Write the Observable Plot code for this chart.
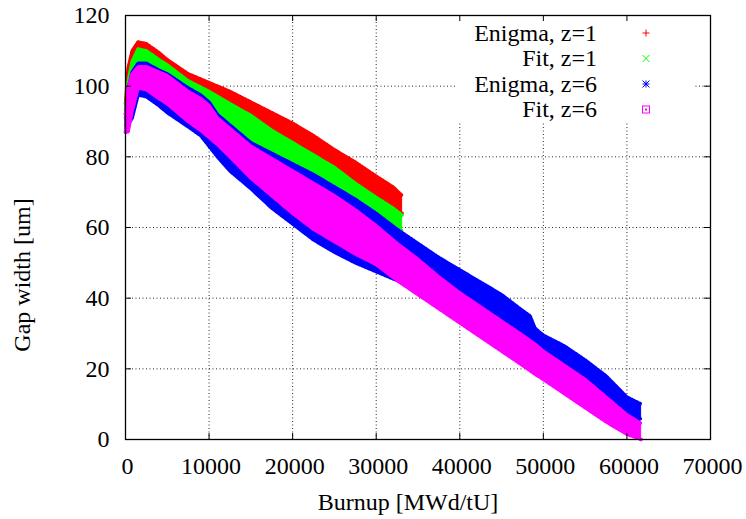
<!DOCTYPE html>
<html>
<head>
<meta charset="utf-8">
<script src="https://cdn.jsdelivr.net/npm/d3@7"></script>
<script src="https://cdn.jsdelivr.net/npm/@observablehq/plot@0.6"></script>
<style>
  html, body { margin: 0; padding: 0; background: white; }
</style>
</head>
<body>
<div id="chart"></div>
<script>
// ---------- data (band envelopes) ----------
const burnupZ1 = [0, 300, 800, 1500, 2500, 4000, 5000, 7500, 10000, 12500, 15000, 17500, 20000, 22500, 25000, 27500, 30000, 32000, 33100];
const enigmaZ1High = [95, 105, 110, 112.5, 112, 109.5, 107.5, 103.5, 101, 98.5, 95.5, 92.5, 89.5, 86, 82, 78.5, 74.5, 71.5, 69];
const enigmaZ1Low  = [91, 97, 101, 103, 103, 101, 99.5, 95.5, 92, 89, 86, 82.5, 79, 75.5, 72, 69, 66, 63.5, 64];
const fitZ1High = [93, 101, 107, 110.5, 110, 107.5, 106, 101.5, 98.5, 95, 91.7, 87.5, 84, 80.5, 77, 72.5, 68.5, 65.5, 63.5];
const fitZ1Low  = [89, 95, 100, 103, 102.5, 101, 100, 96.5, 93.5, 89.5, 85, 81, 77, 73.5, 70, 66.5, 63, 60.5, 59];

const burnupZ6 = [0, 300, 800, 1500, 2500, 4000, 5000, 7500, 9000, 10000, 11000, 12500, 15000, 17500, 20000, 22500, 25000, 27500, 30000, 32500, 35000, 37500, 40000, 42500, 45000, 47500, 48400, 49000, 50000, 52500, 55000, 57500, 60000, 61700];
const enigmaZ6High = [92, 99, 104, 106.5, 106.5, 104.5, 103.5, 99.5, 97.5, 95.5, 92, 89, 84, 81, 78, 75, 71.5, 68, 64, 59.5, 55.5, 51.5, 48, 44.5, 41, 36.5, 35, 31.5, 29.5, 26.5, 22.5, 18, 12, 10];
const enigmaZ6Low  = [87, 89, 91, 97.5, 97, 94.5, 92.5, 88.5, 86, 83, 80, 76, 71, 65.5, 61, 56.5, 53, 50, 47.5, 45, 43, 39, 35.5, 31.5, 27.5, 23.5, 22, 21, 19.5, 15.5, 11.5, 7.5, 4, 6];
const fitZ6High = [92, 99.5, 103.5, 105.5, 105.5, 104, 103, 98.5, 96.5, 94.5, 91, 88, 83, 79.5, 76, 72.5, 69, 65, 60.5, 55.5, 51, 46, 41.5, 37.5, 33.5, 29.5, 28, 27, 25, 21, 17, 12, 7, 4.5];
const fitZ6Low  = [87, 87, 93, 99.5, 99, 96.5, 95, 90, 87.5, 85.5, 83.5, 80, 74, 69, 64, 59.5, 56, 52.5, 49.5, 45, 41, 37, 33, 29, 25, 21, 19.5, 18.5, 17, 13, 9, 5, 1.5, 0];

const seriesNames  = ["Enigma, z=1", "Fit, z=1", "Enigma, z=6", "Fit, z=6"];
const seriesColors = ["#ff0000", "#00ff00", "#0000ff", "#ff00ff"];
const xTicks = [0, 10000, 20000, 30000, 40000, 50000, 60000, 70000];
const yTicks = [0, 20, 40, 60, 80, 100, 120];
const xGridTicks = [10000, 20000, 30000, 40000, 50000, 60000];
const yGridTicks = [20, 40, 60, 80, 100];
const xLabel = "Burnup [MWd/tU]";
const yLabel = "Gap width [um]";

// ---------- build tables ----------
const band = (xs, lo, hi) => xs.map((b, i) => ({b, lo: lo[i], hi: hi[i]}));
const bands = [
  band(burnupZ1, enigmaZ1Low, enigmaZ1High),
  band(burnupZ1, fitZ1Low, fitZ1High),
  band(burnupZ6, enigmaZ6Low, enigmaZ6High),
  band(burnupZ6, fitZ6Low, fitZ6High)
];

const W = 746, H = 519;
const mL = 125, mR = 36, mT = 15, mB = 80;
const plotH = H - mT - mB, plotW = W - mL - mR;
const tick = 6;
const serif = "'Liberation Serif', 'Times New Roman', Times, serif";

const gridStyle = {stroke: "#000", strokeOpacity: 0.85, strokeWidth: 1, strokeDasharray: "1,2.5"};

const bandMarks = bands.flatMap((d, i) => {
  const c = seriesColors[i];
  const edge = {x: "b", stroke: c, strokeWidth: 3.5, strokeDasharray: "1.5,1.5"};
  return [
    Plot.areaY(d, {x: "b", y1: "lo", y2: "hi", fill: c, stroke: c, strokeWidth: 1}),
    Plot.lineY(d, {...edge, y: "hi"}),
    Plot.lineY(d, {...edge, y: "lo"})
  ];
});

const chart = Plot.plot({
  width: W, height: H,
  marginLeft: mL, marginRight: mR, marginTop: mT, marginBottom: mB,
  style: {fontFamily: serif, fontSize: "24px", background: "white", color: "black"},
  x: {domain: [0, 70000]},
  y: {domain: [0, 120]},
  marks: [
    Plot.gridX({ticks: xGridTicks, ...gridStyle}),
    Plot.gridY({ticks: yGridTicks, ...gridStyle}),
    ...bandMarks,
    Plot.tickX(xTicks, {x: d => d, insetTop: plotH - tick, stroke: "black", strokeWidth: 1}),
    Plot.tickX(xTicks, {x: d => d, insetBottom: plotH - tick, stroke: "black", strokeWidth: 1}),
    Plot.tickY(yTicks, {y: d => d, insetRight: plotW - tick, stroke: "black", strokeWidth: 1}),
    Plot.tickY(yTicks, {y: d => d, insetLeft: plotW - tick, stroke: "black", strokeWidth: 1}),
    Plot.axisX({ticks: xTicks, tickSize: 0, tickPadding: 17, tickFormat: d => String(d), label: null, dx: 2, fontFamily: serif}),
    Plot.axisY({ticks: yTicks, tickSize: 0, tickPadding: 16, tickFormat: d => String(d), label: null, fontFamily: serif}),
    Plot.frame({stroke: "black", strokeWidth: 1.3})
  ]
});

document.getElementById("chart").appendChild(chart);

// ---------- legend box (hides grid underneath), labels ----------
const svg = d3.select(chart);
const gy = chart.querySelector('[aria-label="y-grid"]');
const bg = document.createElementNS("http://www.w3.org/2000/svg", "rect");
bg.setAttribute("x", 455); bg.setAttribute("y", 17);
bg.setAttribute("width", 240); bg.setAttribute("height", 105);
bg.setAttribute("fill", "white");
if (gy) gy.after(bg); else chart.appendChild(bg);

const legend = svg.append("g").style("font-family", serif).attr("font-size", 24);
const rowY = [33, 58.5, 84, 109.5];
const mx = 646, s = 3.5;
seriesNames.forEach((name, i) => {
  const cy = rowY[i];
  legend.append("text").attr("x", 597).attr("y", cy).attr("dy", "0.33em").attr("text-anchor", "end").attr("fill", "black").text(name);
  const c = seriesColors[i];
  const g = legend.append("g").attr("stroke", c).attr("fill", "none").attr("stroke-width", 1);
  if (i === 0) g.append("path").attr("d", `M${mx - s},${cy}H${mx + s}M${mx},${cy - s}V${cy + s}`);
  if (i === 1) g.append("path").attr("d", `M${mx - s},${cy - s}L${mx + s},${cy + s}M${mx - s},${cy + s}L${mx + s},${cy - s}`);
  if (i === 2) g.append("path").attr("d", `M${mx - s},${cy}H${mx + s}M${mx},${cy - s}V${cy + s}M${mx - s},${cy - s}L${mx + s},${cy + s}M${mx - s},${cy + s}L${mx + s},${cy - s}`);
  if (i === 3) {
    g.append("rect").attr("x", mx - s).attr("y", cy - s).attr("width", 2 * s).attr("height", 2 * s);
    g.append("rect").attr("x", mx - 0.5).attr("y", cy - 0.5).attr("width", 1).attr("height", 1).attr("fill", c);
  }
});

svg.append("text")
  .attr("x", 408).attr("y", 510)
  .attr("text-anchor", "middle")
  .style("font-family", serif).attr("font-size", 24)
  .attr("fill", "black")
  .text(xLabel);

svg.append("text")
  .attr("transform", "translate(30,275) rotate(-90)")
  .attr("text-anchor", "middle")
  .style("font-family", serif).attr("font-size", 24)
  .attr("fill", "black")
  .text(yLabel);
</script>
</body>
</html>
